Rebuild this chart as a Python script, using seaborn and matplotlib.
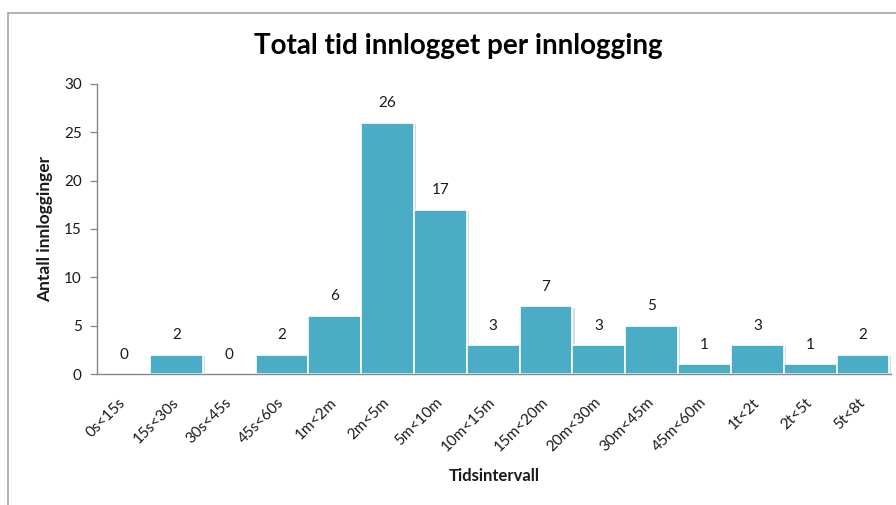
import matplotlib
matplotlib.use("Agg")
import matplotlib.pyplot as plt
import matplotlib.patheffects as pe
from matplotlib.lines import Line2D
import seaborn as sns
import pandas as pd

intervals = ["0s<15s", "15s<30s", "30s<45s", "45s<60s", "1m<2m", "2m<5m",
             "5m<10m", "10m<15m", "15m<20m", "20m<30m", "30m<45m", "45m<60m",
             "1t<2t", "2t<5t", "5t<8t"]
counts = [0, 2, 0, 2, 6, 26, 17, 3, 7, 3, 5, 1, 3, 1, 2]
y_ticks = [0, 5, 10, 15, 20, 25, 30]

sns.set_theme(style="white")
plt.rcParams["font.family"] = ["Lato", "DejaVu Sans"]

df = pd.DataFrame({"Tidsintervall": intervals, "Antall": counts})

fig = plt.figure(figsize=(8.96, 5.05), dpi=100)
ax = fig.add_axes([0.1083, 0.2594, 0.8861, 0.5743])

sns.barplot(data=df, x="Tidsintervall", y="Antall", color="#4BACC6",
            saturation=1, width=1.0, edgecolor="white", linewidth=1.2, ax=ax)

shadow = [pe.SimplePatchShadow(offset=(1.5, -1.0), shadow_rgbFace="#9a9a9a", alpha=0.35),
          pe.Normal()]
for bar in ax.patches:
    bar.set_path_effects(shadow)

for i, v in enumerate(counts):
    ax.annotate(str(v), (i, v), xytext=(0, 9), textcoords="offset points",
                ha="center", va="bottom", fontsize=11, color="#1a1a1a")

ax.set_xlim(-0.5, len(intervals) - 0.5 + 0.03)
ax.set_ylim(0, 30)
ax.set_yticks(y_ticks)
ax.tick_params(axis="y", which="both", left=True, length=5, width=0.9,
               color="#868686", labelsize=11, labelcolor="#1a1a1a", pad=6)
ax.tick_params(axis="x", bottom=False, labelsize=11, labelcolor="#1a1a1a", pad=13)
for lbl in ax.get_xticklabels():
    lbl.set_rotation(45)
    lbl.set_ha("right")
    lbl.set_va("center")
    lbl.set_rotation_mode("anchor")

for side in ["top", "right"]:
    ax.spines[side].set_visible(False)
for side in ["left", "bottom"]:
    ax.spines[side].set_color("#868686")
    ax.spines[side].set_linewidth(1.0)

ax.set_xlabel("Tidsintervall", fontsize=12, fontweight="bold", color="#1a1a1a", labelpad=10)
ax.set_ylabel("Antall innlogginger", fontsize=12.5, fontweight="bold", color="#1a1a1a", labelpad=8)

fig.text(0.511, 0.908, "Total tid innlogget per innlogging", ha="center", va="center",
         fontsize=20, fontweight="bold", color="#000000")

# chart frame edges
fig.add_artist(Line2D([8 / 896, 8 / 896], [0, 1 - 13 / 505], transform=fig.transFigure,
                      color="#a6a6a6", linewidth=1.2))
fig.add_artist(Line2D([8 / 896, 1], [1 - 13 / 505, 1 - 13 / 505], transform=fig.transFigure,
                      color="#a6a6a6", linewidth=1.2))

fig.savefig("out.png", dpi=100)
